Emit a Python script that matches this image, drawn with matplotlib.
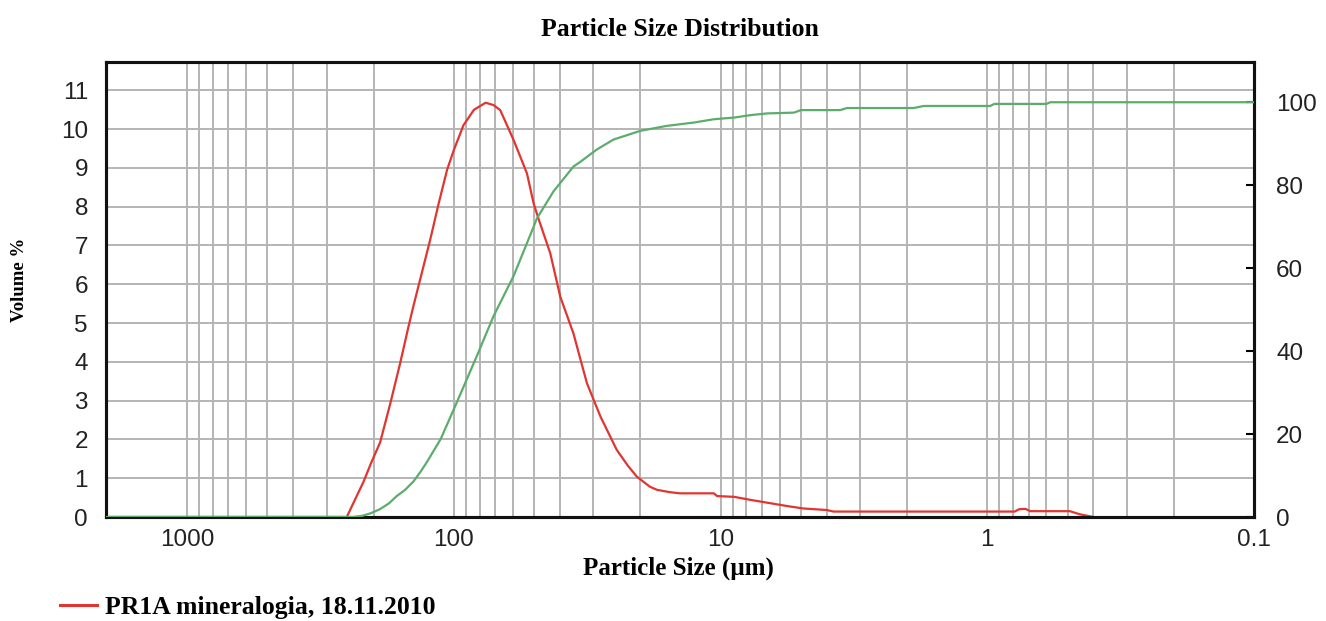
import numpy as np
import matplotlib
matplotlib.use("Agg")
import matplotlib.pyplot as plt
from matplotlib.ticker import FixedLocator, LogLocator, NullFormatter

# red curve: volume % per size class (left axis)
red_size = [2000, 252, 218, 204, 189, 173, 159, 148, 141.6, 134, 122.7, 114, 106, 100, 92, 84,
            76, 71, 67, 59.7, 53.2, 50.2, 48.2, 43.5, 39.9, 35.6, 31.7, 28.2, 24.5, 22.3,
            20.6, 18.4, 17.3, 15.5, 14.2, 10.6, 10.3, 8.9, 7.7, 6.7, 5.6, 4.9, 4.0, 3.77,
            0.79, 0.76, 0.72, 0.69, 0.49, 0.45, 0.40]
red_vol = [0, 0, 0.91, 1.4, 1.92, 2.93, 3.96, 4.9, 5.45, 6.1, 7.14, 8.08, 8.95, 9.46, 10.1,
           10.5, 10.68, 10.62, 10.49, 9.72, 8.86, 8.08, 7.7, 6.8, 5.68, 4.73, 3.45, 2.59,
           1.73, 1.33, 1.04, 0.78, 0.70, 0.64, 0.61, 0.61, 0.54, 0.52, 0.44, 0.37, 0.28,
           0.22, 0.18, 0.14, 0.14, 0.2, 0.21, 0.15, 0.15, 0.07, 0]

# green curve: cumulative % (right axis)
green_size = [2000, 238, 220, 205, 189, 175, 164, 152, 141.6, 133, 126, 112, 97.5, 82, 71,
              59.7, 50.2, 48.8, 42.3, 35.6, 33.6, 29.1, 25.2, 20, 15.9, 12.6, 10.6, 8.9,
              7.7, 6.7, 5.3, 5.0, 3.56, 3.36, 1.89, 1.73, 0.975, 0.94, 0.60, 0.58, 0.1]
green_cum = [0, 0, 0.3, 0.9, 1.9, 3.3, 5.0, 6.6, 8.6, 11.0, 13.3, 18.8, 27.6, 38.8, 48.4,
             58.1, 70.0, 72.0, 78.5, 84.5, 85.6, 88.6, 91.0, 93.1, 94.3, 95.1, 95.9, 96.3,
             96.9, 97.3, 97.5, 98.1, 98.1, 98.6, 98.6, 99.1, 99.1, 99.6, 99.6, 100, 100]

x_ticks = [1000, 100, 10, 1, 0.1]
x_labels = ['1000', '100', '10', '1', '0.1']
left_ticks = list(range(0, 12))
right_ticks = [0, 20, 40, 60, 80, 100]

serif = 'Liberation Serif'
sans = 'Liberation Sans'

fig = plt.figure(figsize=(13.26, 6.21), dpi=100)
ax = fig.add_axes([106/1326, 1-517/621, (1254-106)/1326, (517-62)/621])
ax2 = ax.twinx()

ax.plot(red_size, red_vol, color='#e03530', lw=1.6, zorder=3)
ax2.plot(green_size, green_cum, color='#5cad6c', lw=1.6, zorder=3)

ax.set_xscale('log')
ax.set_xlim(2014, 0.1)
ax.set_ylim(0, 11.73)
ax2.set_ylim(0, 109.7)

ax.xaxis.set_major_locator(FixedLocator(x_ticks))
ax.set_xticklabels(x_labels)
ax.xaxis.set_minor_locator(LogLocator(base=10, subs=np.arange(2, 10), numticks=20))
ax.xaxis.set_minor_formatter(NullFormatter())
ax.set_yticks(left_ticks)
ax2.set_yticks(right_ticks)

ax.grid(True, which='both', axis='x', color='#b4b4b4', lw=1.4)
ax.grid(True, which='major', axis='y', color='#b4b4b4', lw=1.4)
ax.set_axisbelow(True)

ax.tick_params(axis='x', which='both', length=0, pad=9, labelsize=17.5)
ax.tick_params(axis='y', length=0, pad=13, labelsize=17.5)
ax2.tick_params(axis='y', direction='in', length=6, width=1.5, pad=16, labelsize=17.5)
for lab in ax.get_xticklabels() + ax.get_yticklabels() + ax2.get_yticklabels():
    lab.set_fontfamily(sans)
    lab.set_color('#222222')

for a in (ax, ax2):
    for s in a.spines.values():
        s.set_linewidth(2.2)
        s.set_color('#111111')

ax.set_title('Particle Size Distribution', fontfamily=serif, fontweight='bold',
             fontsize=18.5, pad=19)
fig.text(678/1326, 1-575/621, 'Particle Size (µm)', ha='center', va='baseline',
         fontfamily=serif, fontweight='bold', fontsize=18)
fig.text(20/1326, 1-280/621, 'Volume %', ha='center', va='center', rotation=90,
         fontfamily=serif, fontweight='bold', fontsize=13.5)

handle = plt.Line2D([], [], color='#e03530', lw=2.2)
fig.legend([handle], ['PR1A mineralogia, 18.11.2010'], loc='lower left',
           bbox_to_anchor=(60/1326, 2/621), frameon=False, handlelength=1.45,
           handletextpad=0.3, borderpad=0, borderaxespad=0,
           prop={'family': serif, 'weight': 'bold', 'size': 18.5})

fig.savefig('out.png', dpi=100)
